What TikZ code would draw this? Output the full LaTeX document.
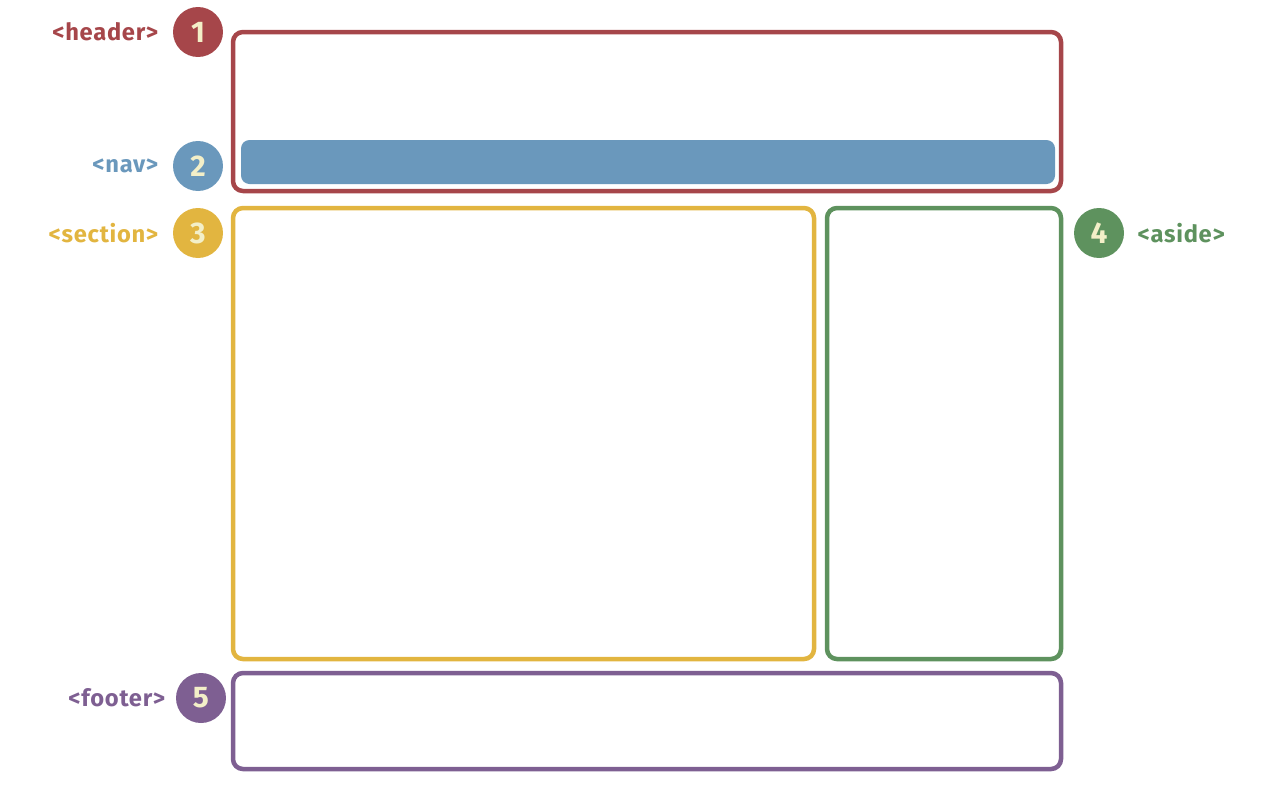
\documentclass[tikz,border=0pt]{standalone}
\usepackage{fontspec}
\setmainfont{Fira Sans}
\usetikzlibrary{positioning}
\definecolor{hdrred}{HTML}{A6464A}
\definecolor{navblue}{HTML}{6A98BC}
\definecolor{secyellow}{HTML}{E2B540}
\definecolor{asdgreen}{HTML}{5E925E}
\definecolor{ftrpurple}{HTML}{7E5F92}
\definecolor{cream}{HTML}{F3EFC8}
\begin{document}
\begin{tikzpicture}[x=0.02cm, y=-0.02cm, node distance=0.28cm,
    region/.style={line width=0.09cm, rounded corners=0.2cm},
    badge/.style={circle, minimum size=1cm, inner sep=0pt, text=cream, font=\fontsize{17}{19}\selectfont\bfseries},
    tag/.style={font=\fontsize{13.5}{15}\selectfont\bfseries\addfontfeature{LetterSpace=3}, inner sep=0pt}]
    \useasboundingbox (0,0) rectangle (1280,788);

    % Regions
    \draw[region, draw=hdrred] (233,32) rectangle (1061,191);
    \fill[navblue, rounded corners=0.17cm] (241,140) rectangle (1055,184);
    \draw[region, draw=secyellow] (233,208) rectangle (814,659);
    \draw[region, draw=asdgreen] (827,208) rectangle (1061,659);
    \draw[region, draw=ftrpurple] (233,673) rectangle (1061,769);

    % Badges
    \node[badge, fill=hdrred] (b1) at (198,32) {1};
    \node[badge, fill=navblue] (b2) at (198,166) {2};
    \node[badge, fill=secyellow] (b3) at (198,233) {3};
    \node[badge, fill=asdgreen] (b4) at (1099,233) {4};
    \node[badge, fill=ftrpurple] (b5) at (201,698) {5};

    % Tags
    \node[tag, text=hdrred, left=0.28cm of b1] (t1) {<header>};
    \node[tag, text=navblue, left=0.28cm of b2] (t2) {<nav>};
    \node[tag, text=secyellow, left=0.28cm of b3] (t3) {<section>};
    \node[tag, text=asdgreen, right=0.26cm of b4] (t4) {<aside>};
    \node[tag, text=ftrpurple, left=0.2cm of b5] (t5) {<footer>};
\end{tikzpicture}
\end{document}
